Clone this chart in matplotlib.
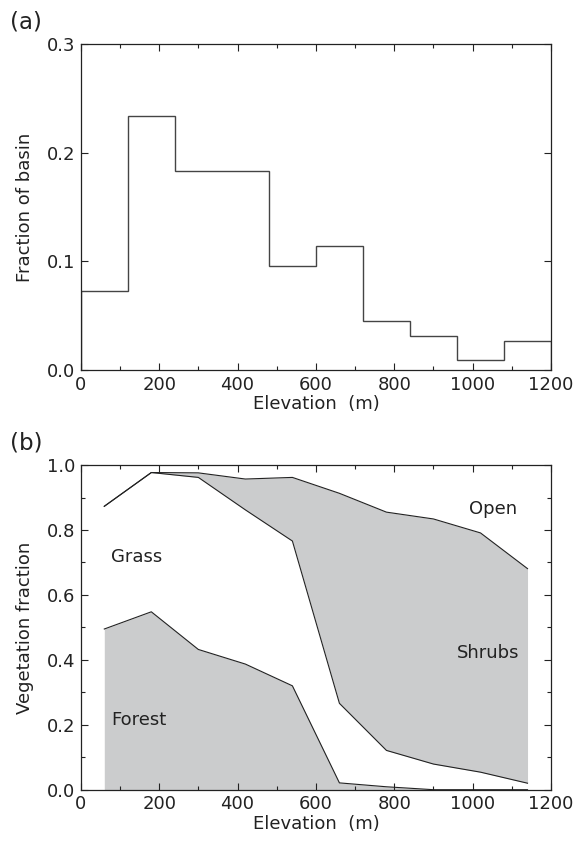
import numpy as np
import matplotlib.pyplot as plt
from matplotlib.ticker import MultipleLocator

plt.rcParams['font.family'] = ['DejaVu Sans']

# (a) elevation histogram, 120 m bins
bin_edges = [0, 120, 240, 360, 480, 600, 720, 840, 960, 1080, 1200]
basin_frac = [0.073, 0.234, 0.183, 0.183, 0.096, 0.114, 0.045, 0.031, 0.009, 0.027]

# (b) cumulative vegetation fractions at bin centres
elev = [60, 180, 300, 420, 540, 660, 780, 900, 1020, 1140]
forest_top = [0.495, 0.548, 0.432, 0.387, 0.320, 0.021, 0.009, 0.0, 0.0, 0.0]
grass_top = [0.873, 0.977, 0.962, 0.862, 0.766, 0.266, 0.121, 0.079, 0.054, 0.020]
shrub_top = [0.873, 0.977, 0.976, 0.957, 0.962, 0.913, 0.855, 0.834, 0.791, 0.681]

grey = '#cbcccd'
ink = '#222222'
fs = 13

fig = plt.figure(figsize=(5.77, 8.41), dpi=100)
ax1 = fig.add_axes([0.140, 0.560, 0.815, 0.388])
ax2 = fig.add_axes([0.140, 0.061, 0.815, 0.386])


def style(ax, ymaj, ymin):
    ax.set_xlim(0, 1200)
    ax.xaxis.set_major_locator(MultipleLocator(200))
    ax.xaxis.set_minor_locator(MultipleLocator(100))
    ax.yaxis.set_major_locator(MultipleLocator(ymaj))
    if ymin:
        ax.yaxis.set_minor_locator(MultipleLocator(ymin))
    ax.tick_params(which='both', direction='in', top=True, right=True,
                   labelsize=fs, width=0.8, pad=4, colors=ink)
    ax.tick_params(which='major', length=5)
    ax.tick_params(which='minor', length=3)
    for s in ax.spines.values():
        s.set_linewidth(0.9)
        s.set_color(ink)
    ax.set_xlabel('Elevation  (m)', fontsize=fs, labelpad=1, color=ink)


# panel (a)
ax1.stairs(basin_frac, bin_edges, color='#444444', linewidth=1.0)
ax1.set_ylim(0, 0.3)
style(ax1, 0.1, None)
ax1.yaxis.set_major_formatter(plt.FormatStrFormatter('%.1f'))
ax1.set_ylabel('Fraction of basin', fontsize=fs, labelpad=9, color=ink)
fig.text(0.018, 0.966, '(a)', fontsize=16.5, color=ink)

# panel (b)
ax2.fill_between(elev, 0, forest_top, color=grey, linewidth=0)
ax2.fill_between(elev, grass_top, shrub_top, color=grey, linewidth=0)
ax2.plot(elev, forest_top, color=ink, linewidth=0.8)
ax2.plot(elev, grass_top, color=ink, linewidth=0.8)
ax2.plot(elev, shrub_top, color=ink, linewidth=0.8)
ax2.set_ylim(0, 1.0)
style(ax2, 0.2, 0.1)
ax2.yaxis.set_major_formatter(plt.FormatStrFormatter('%.1f'))
ax2.set_ylabel('Vegetation fraction', fontsize=fs, labelpad=9, color=ink)
fig.text(0.018, 0.465, '(b)', fontsize=16.5, color=ink)

ax2.text(78, 0.718, 'Grass', fontsize=fs, va='center', color=ink)
ax2.text(78, 0.215, 'Forest', fontsize=fs, va='center', color=ink)
ax2.text(1114, 0.865, 'Open', fontsize=fs, va='center', ha='right', color=ink)
ax2.text(1119, 0.42, 'Shrubs', fontsize=fs, va='center', ha='right', color=ink)

fig.savefig('out.png', dpi=100)
